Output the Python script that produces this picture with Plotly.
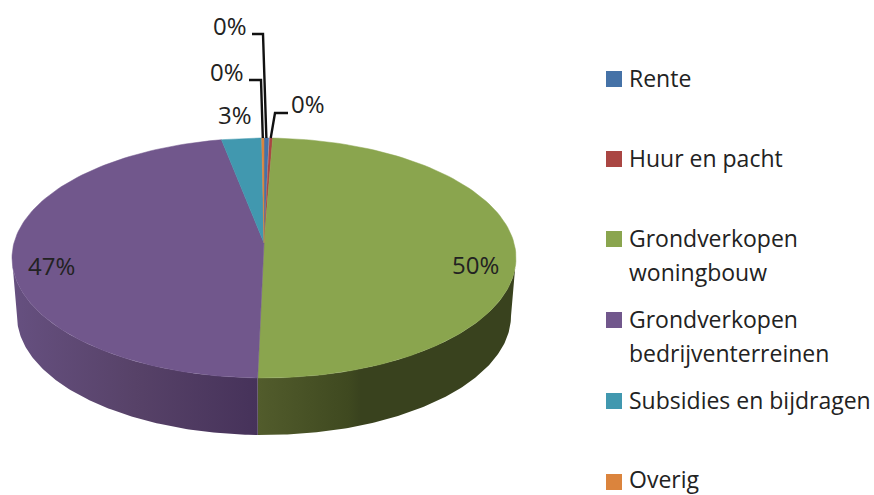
import math
import plotly.graph_objects as go

categories = ["Rente", "Huur en pacht", "Grondverkopen<br>woningbouw",
              "Grondverkopen<br>bedrijventerreinen", "Subsidies en bijdragen", "Overig"]
values = [0.30, 0.25, 49.85, 46.90, 2.55, 0.15]
pct_labels = ["0%", "0%", "50%", "47%", "3%", "0%"]
colors = ["#4572a7", "#aa4643", "#8aa54e", "#71578c", "#4198af", "#db843d"]
wall_scales = {
    2: [[0, "#525c2c"], [0.35, "#3f4920"], [0.40, "#39421e"], [1, "#39421e"]],
    3: [[0, "#665080"], [0.5, "#574268"], [1, "#46325a"]],
}

W, H = 874, 495
TOP = dict(cx=264, cy=258, rx=252, ry=120)
BOT = dict(cx=264, cy=316, rx=247, ry=119)
APEX = (264, 243)
FONT = "Open Sans"
TXT = "#222222"


def pt(e, t):
    r = math.radians(t)
    return e["cx"] + e["rx"] * math.sin(r), e["cy"] - e["ry"] * math.cos(r)


def arc(e, a, b, n=120):
    pts = [pt(e, a + (b - a) * i / n) for i in range(n + 1)]
    return [p[0] for p in pts], [p[1] for p in pts]


total = sum(values)
fig = go.Figure()
angles = []
cum = 0.0
for v in values:
    angles.append((cum / total * 360, (cum + v) / total * 360))
    cum += v

# side wall
for i, (a, b) in enumerate(angles):
    lo, hi = max(a, 90), min(b, 270)
    if lo >= hi:
        continue
    x1, y1 = arc(TOP, lo, hi)
    x2, y2 = arc(BOT, hi, lo)
    fig.add_trace(go.Scatter(
        x=x1 + x2 + [x1[0]], y=y1 + y2 + [y1[0]], mode="lines", fill="toself",
        line=dict(width=0), showlegend=False, hoverinfo="skip",
        fillgradient=dict(type="horizontal",
                          colorscale=wall_scales[i] if i in wall_scales else [[0, colors[i]], [1, colors[i]]]),
    ))

# top face
for i, (a, b) in enumerate(angles):
    x, y = arc(TOP, a, b)
    fig.add_trace(go.Scatter(
        x=[APEX[0]] + x + [APEX[0]], y=[APEX[1]] + y + [APEX[1]], mode="lines", fill="toself",
        fillcolor=colors[i], line=dict(width=0.5, color=colors[i]),
        name=categories[i].replace("<br>", " "), showlegend=False,
    ))

# leader lines for small slices
leaders = {0: (252, 34, 263, 34), 5: (249, 80, 261, 80), 1: (288, 113, 275, 113)}
for i, (x0, y0, x1, y1) in leaders.items():
    a, b = angles[i]
    ex, ey = pt(TOP, (a + b) / 2)
    fig.add_trace(go.Scatter(x=[x0, x1, ex], y=[y0, y1, ey], mode="lines",
                             line=dict(color="#111111", width=2.4), showlegend=False, hoverinfo="skip"))

# legend swatches
leg_y = [79, 159, 239, 320, 401, 482]
fig.add_trace(go.Scatter(x=[614] * 6, y=leg_y, mode="markers", showlegend=False, hoverinfo="skip",
                         marker=dict(symbol="square", size=16, color=colors, line=dict(width=0))))

ann = []
for name, y in zip(categories, leg_y):
    for k, line in enumerate(name.split("<br>")):
        # keep the text box inside the page at the bottom edge
        ty = min(y + k * 34 - 1, H - 16.5)
        ann.append(dict(x=627, y=ty, text=line, xanchor="left", yanchor="middle", showarrow=False,
                        font=dict(family=FONT, size=23, color=TXT)))
lab_pos = {0: (230, 25), 5: (227, 71), 4: (235, 114), 1: (308, 103), 3: (51, 265), 2: (475, 264)}
for i, (x, y) in lab_pos.items():
    ann.append(dict(x=x, y=y, text=pct_labels[i], xanchor="center", yanchor="middle", showarrow=False,
                    font=dict(family=FONT, size=24, color=TXT)))

fig.update_layout(
    width=W, height=H, margin=dict(l=0, r=0, t=0, b=0), paper_bgcolor="white", plot_bgcolor="white",
    xaxis=dict(range=[0, W], visible=False), yaxis=dict(range=[H, 0], visible=False),
    annotations=ann, showlegend=False,
)
fig.write_html("out.html", post_script="document.body.style.margin='0';", config={"displayModeBar": False})
